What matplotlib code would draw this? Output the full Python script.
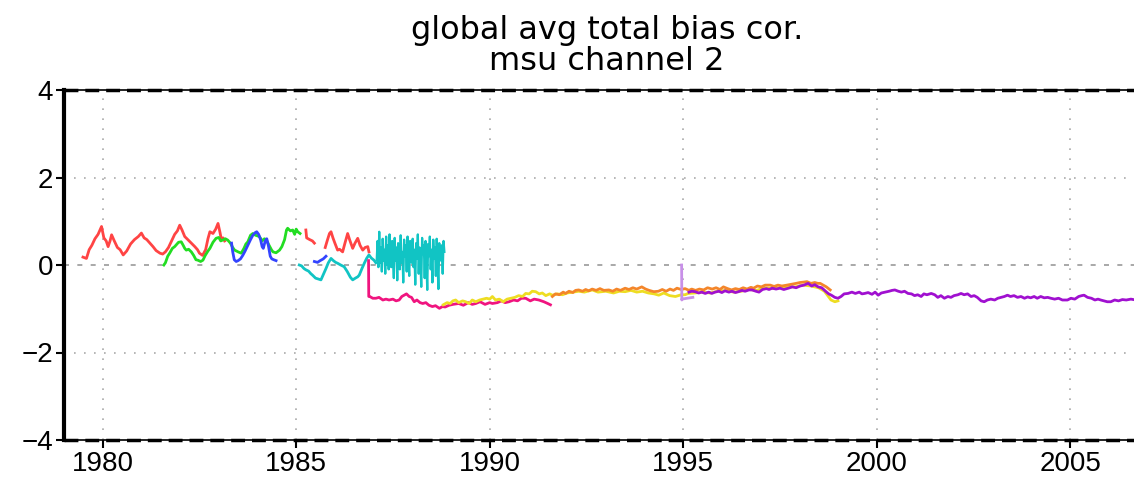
import numpy as np
import matplotlib
matplotlib.use("Agg")
import matplotlib.pyplot as plt

# (year, bias) pairs, one list per satellite
red_a = [(1979.49, 0.18), (1979.58, 0.15), (1979.65, 0.35), (1979.72, 0.45), (1979.80, 0.60),
         (1979.88, 0.70), (1979.97, 0.88), (1980.03, 0.62), (1980.09, 0.55), (1980.14, 0.42),
         (1980.19, 0.55), (1980.23, 0.69), (1980.30, 0.55), (1980.38, 0.40), (1980.45, 0.35),
         (1980.53, 0.23), (1980.62, 0.32), (1980.72, 0.48), (1980.82, 0.58), (1980.92, 0.65),
         (1981.00, 0.73), (1981.07, 0.62), (1981.14, 0.58), (1981.22, 0.50), (1981.30, 0.42),
         (1981.38, 0.33), (1981.48, 0.27), (1981.55, 0.25), (1981.62, 0.30), (1981.70, 0.40),
         (1981.78, 0.55), (1981.86, 0.70), (1981.93, 0.78), (1981.99, 0.91), (1982.05, 0.80),
         (1982.12, 0.65), (1982.20, 0.58), (1982.29, 0.50), (1982.38, 0.42), (1982.45, 0.35),
         (1982.50, 0.27), (1982.58, 0.22), (1982.66, 0.35), (1982.72, 0.60), (1982.77, 0.76),
         (1982.85, 0.72), (1982.92, 0.82), (1982.98, 0.95), (1983.03, 0.75), (1983.07, 0.57),
         (1983.11, 0.62), (1983.15, 0.55)]
red_b = [(1985.25, 0.80), (1985.27, 0.62), (1985.35, 0.58), (1985.42, 0.55), (1985.47, 0.50)]
red_c = [(1985.75, 0.40), (1985.80, 0.55), (1985.86, 0.72), (1985.90, 0.76), (1985.95, 0.62),
         (1986.00, 0.50), (1986.07, 0.34), (1986.12, 0.36), (1986.20, 0.30), (1986.26, 0.50),
         (1986.33, 0.72), (1986.38, 0.58), (1986.46, 0.38), (1986.52, 0.50), (1986.59, 0.61),
         (1986.65, 0.45), (1986.72, 0.34), (1986.78, 0.40), (1986.85, 0.42), (1986.88, 0.30)]

green = [(1981.58, 0.00), (1981.62, 0.05), (1981.68, 0.20), (1981.73, 0.27), (1981.80, 0.38),
         (1981.86, 0.42), (1981.90, 0.46), (1981.96, 0.52), (1982.03, 0.53), (1982.08, 0.45),
         (1982.12, 0.38), (1982.16, 0.34), (1982.22, 0.36), (1982.29, 0.30), (1982.35, 0.22),
         (1982.41, 0.12), (1982.46, 0.11), (1982.53, 0.08), (1982.59, 0.11), (1982.65, 0.22),
         (1982.72, 0.32), (1982.77, 0.38), (1982.85, 0.52), (1982.93, 0.61), (1983.00, 0.63),
         (1983.05, 0.55), (1983.10, 0.57), (1983.17, 0.60), (1983.23, 0.57), (1983.30, 0.50),
         (1983.36, 0.40), (1983.41, 0.34), (1983.50, 0.30), (1983.58, 0.27), (1983.65, 0.38),
         (1983.70, 0.48), (1983.75, 0.53), (1983.82, 0.68), (1983.88, 0.72), (1983.95, 0.68),
         (1984.05, 0.65), (1984.12, 0.55), (1984.18, 0.60), (1984.23, 0.57), (1984.30, 0.45),
         (1984.36, 0.35), (1984.40, 0.30), (1984.48, 0.28), (1984.57, 0.34), (1984.63, 0.42),
         (1984.70, 0.58), (1984.75, 0.80), (1984.78, 0.84), (1984.85, 0.78), (1984.91, 0.80),
         (1984.96, 0.70), (1985.00, 0.82), (1985.04, 0.76), (1985.10, 0.72)]

blue_a = [(1983.33, 0.50), (1983.36, 0.30), (1983.40, 0.12), (1983.45, 0.08), (1983.50, 0.10),
          (1983.56, 0.14), (1983.62, 0.22), (1983.68, 0.32), (1983.75, 0.45), (1983.82, 0.58),
          (1983.88, 0.68), (1983.94, 0.74), (1983.98, 0.76), (1984.03, 0.70), (1984.08, 0.58),
          (1984.12, 0.42), (1984.15, 0.38), (1984.20, 0.55), (1984.24, 0.60), (1984.28, 0.45),
          (1984.33, 0.20), (1984.37, 0.14), (1984.42, 0.12), (1984.48, 0.10)]
blue_b = [(1985.47, 0.08), (1985.55, 0.06), (1985.62, 0.10), (1985.70, 0.14), (1985.77, 0.20)]

cyan_a = [(1985.08, 0.00), (1985.14, -0.02), (1985.20, -0.08), (1985.25, -0.11), (1985.32, -0.14),
          (1985.38, -0.20), (1985.42, -0.23), (1985.50, -0.30), (1985.57, -0.32), (1985.64, -0.34),
          (1985.70, -0.22), (1985.77, -0.08), (1985.83, 0.05), (1985.90, 0.15), (1985.96, 0.10),
          (1986.02, 0.06), (1986.07, 0.04), (1986.15, 0.00), (1986.24, -0.04), (1986.32, -0.15),
          (1986.40, -0.28), (1986.46, -0.34), (1986.53, -0.30), (1986.59, -0.27), (1986.63, -0.23),
          (1986.70, -0.08), (1986.76, 0.04), (1986.82, 0.15), (1986.88, 0.23), (1986.94, 0.16),
          (1987.01, 0.11), (1987.06, 0.05)]
# noisy stretch 1987.08 - 1988.83, evenly spaced samples
cyan_b_start, cyan_b_end = 1987.08, 1988.83
cyan_b = [0.10, 0.55, -0.05, 0.76, 0.05, 0.40, -0.15, 0.60, 0.10, 0.35, -0.20, 0.65, 0.00, 0.45,
          -0.10, 0.70, 0.20, -0.05, 0.55, 0.15, -0.30, 0.62, 0.10, 0.40, -0.35, 0.50, 0.25, -0.10,
          0.68, 0.05, 0.30, -0.40, 0.58, 0.20, 0.45, -0.15, 0.65, 0.10, -0.25, 0.55, 0.30, 0.05,
          0.60, -0.05, 0.35, -0.45, 0.50, 0.15, 0.70, -0.20, 0.40, 0.10, -0.50, 0.62, 0.25, 0.45,
          -0.30, 0.55, 0.05, -0.57, 0.48, 0.20, 0.65, -0.10, 0.35, -0.40, 0.58, 0.15, 0.40, -0.25,
          0.60, 0.05, -0.55, 0.50, 0.30, 0.10, 0.45, -0.20, 0.55, 0.30]

magenta = [(1986.870, 0.10), (1986.875, -0.72), (1986.90, -0.72), (1986.98, -0.76), (1987.06, -0.76),
           (1987.14, -0.74), (1987.24, -0.80), (1987.32, -0.78), (1987.40, -0.80), (1987.50, -0.78),
           (1987.58, -0.82), (1987.66, -0.80), (1987.73, -0.72), (1987.79, -0.69), (1987.85, -0.66),
           (1987.92, -0.72), (1987.98, -0.74), (1988.05, -0.84), (1988.12, -0.80), (1988.20, -0.86),
           (1988.27, -0.88), (1988.35, -0.86), (1988.43, -0.92), (1988.52, -0.95), (1988.60, -0.93),
           (1988.70, -0.99), (1988.78, -0.95), (1988.85, -0.96), (1988.95, -0.92), (1989.05, -0.90),
           (1989.20, -0.88), (1989.32, -0.92), (1989.45, -0.86), (1989.55, -0.90), (1989.64, -0.88),
           (1989.75, -0.84), (1989.88, -0.90), (1990.00, -0.86), (1990.07, -0.88), (1990.20, -0.86),
           (1990.30, -0.82), (1990.40, -0.86), (1990.50, -0.84), (1990.62, -0.80), (1990.72, -0.82),
           (1990.82, -0.76), (1990.93, -0.76), (1991.05, -0.82), (1991.15, -0.78), (1991.27, -0.80),
           (1991.40, -0.84), (1991.50, -0.88), (1991.57, -0.91)]

yellow = [(1988.80, -0.91), (1988.90, -0.86), (1988.98, -0.88), (1989.05, -0.82), (1989.12, -0.80),
          (1989.20, -0.86), (1989.30, -0.82), (1989.38, -0.84), (1989.47, -0.88), (1989.55, -0.80),
          (1989.64, -0.84), (1989.74, -0.80), (1989.83, -0.78), (1989.92, -0.76), (1990.00, -0.78),
          (1990.07, -0.72), (1990.15, -0.80), (1990.25, -0.78), (1990.35, -0.84), (1990.45, -0.78),
          (1990.55, -0.76), (1990.65, -0.74), (1990.75, -0.70), (1990.85, -0.72), (1990.93, -0.65),
          (1991.02, -0.66), (1991.10, -0.60), (1991.19, -0.61), (1991.28, -0.66), (1991.36, -0.64),
          (1991.45, -0.70), (1991.55, -0.66), (1991.62, -0.69), (1991.75, -0.66), (1991.88, -0.68),
          (1992.00, -0.64), (1992.15, -0.62), (1992.30, -0.60), (1992.45, -0.62), (1992.65, -0.57),
          (1992.80, -0.62), (1993.00, -0.60), (1993.20, -0.64), (1993.35, -0.60), (1993.50, -0.61),
          (1993.65, -0.58), (1993.80, -0.62), (1993.95, -0.60), (1994.10, -0.64), (1994.25, -0.66),
          (1994.37, -0.69), (1994.50, -0.64), (1994.65, -0.70), (1994.80, -0.72), (1994.95, -0.68),
          (1995.05, -0.68), (1995.13, -0.65), (1995.30, -0.64), (1995.50, -0.62), (1995.70, -0.64),
          (1995.90, -0.60), (1996.10, -0.58), (1996.30, -0.62), (1996.50, -0.60), (1996.70, -0.56),
          (1996.90, -0.58), (1997.10, -0.52), (1997.30, -0.54), (1997.50, -0.52), (1997.70, -0.50),
          (1997.90, -0.50), (1998.10, -0.46), (1998.30, -0.48), (1998.50, -0.52), (1998.65, -0.60),
          (1998.82, -0.80), (1998.92, -0.84), (1999.00, -0.82)]

orange = [(1991.62, -0.72), (1991.70, -0.66), (1991.80, -0.68), (1991.90, -0.62), (1991.96, -0.65),
          (1992.05, -0.60), (1992.15, -0.63), (1992.22, -0.58), (1992.30, -0.57), (1992.40, -0.60),
          (1992.48, -0.56), (1992.56, -0.59), (1992.65, -0.55), (1992.75, -0.58), (1992.85, -0.54),
          (1992.95, -0.58), (1993.08, -0.57), (1993.18, -0.60), (1993.28, -0.55), (1993.38, -0.58),
          (1993.50, -0.53), (1993.60, -0.56), (1993.70, -0.52), (1993.80, -0.55), (1993.93, -0.50),
          (1994.03, -0.55), (1994.12, -0.58), (1994.24, -0.61), (1994.36, -0.60), (1994.46, -0.56),
          (1994.56, -0.60), (1994.66, -0.55), (1994.75, -0.58), (1994.84, -0.53), (1994.95, -0.56),
          (1995.05, -0.54), (1995.15, -0.58), (1995.22, -0.55), (1995.32, -0.58), (1995.42, -0.55),
          (1995.53, -0.57), (1995.63, -0.52), (1995.75, -0.55), (1995.85, -0.52), (1995.95, -0.56),
          (1996.04, -0.50), (1996.15, -0.54), (1996.25, -0.57), (1996.35, -0.54), (1996.45, -0.56),
          (1996.55, -0.52), (1996.65, -0.55), (1996.75, -0.51), (1996.82, -0.53), (1996.92, -0.48),
          (1997.02, -0.50), (1997.12, -0.46), (1997.25, -0.46), (1997.35, -0.49), (1997.45, -0.46),
          (1997.55, -0.48), (1997.68, -0.46), (1997.80, -0.44), (1997.92, -0.42), (1998.02, -0.40),
          (1998.12, -0.39), (1998.20, -0.38), (1998.30, -0.42), (1998.40, -0.40), (1998.48, -0.42),
          (1998.54, -0.42), (1998.62, -0.46), (1998.70, -0.50), (1998.80, -0.57)]

lavender = [(1994.960, 0.00), (1994.965, -0.80), (1994.97, -0.78), (1995.10, -0.76), (1995.25, -0.74)]

purple = [(1995.15, -0.62), (1995.22, -0.60), (1995.31, -0.61), (1995.40, -0.64), (1995.48, -0.62),
          (1995.57, -0.65), (1995.66, -0.62), (1995.74, -0.65), (1995.82, -0.62), (1995.92, -0.60),
          (1996.00, -0.63), (1996.08, -0.59), (1996.18, -0.62), (1996.26, -0.60), (1996.35, -0.63),
          (1996.43, -0.61), (1996.52, -0.58), (1996.60, -0.60), (1996.70, -0.57), (1996.78, -0.57),
          (1996.88, -0.60), (1996.96, -0.62), (1997.05, -0.56), (1997.15, -0.54), (1997.22, -0.56),
          (1997.30, -0.53), (1997.40, -0.55), (1997.50, -0.53), (1997.60, -0.56), (1997.72, -0.53),
          (1997.82, -0.50), (1997.92, -0.52), (1998.02, -0.48), (1998.12, -0.46), (1998.23, -0.42),
          (1998.32, -0.48), (1998.40, -0.45), (1998.49, -0.50), (1998.58, -0.52), (1998.68, -0.60),
          (1998.76, -0.66), (1998.83, -0.69), (1998.92, -0.74), (1999.00, -0.76), (1999.08, -0.72),
          (1999.16, -0.66), (1999.26, -0.65), (1999.36, -0.62), (1999.45, -0.65), (1999.55, -0.62),
          (1999.62, -0.66), (1999.69, -0.65), (1999.78, -0.63), (1999.88, -0.67), (1999.96, -0.62),
          (2000.04, -0.69), (2000.12, -0.64), (2000.22, -0.62), (2000.32, -0.60), (2000.40, -0.58),
          (2000.47, -0.57), (2000.56, -0.60), (2000.64, -0.62), (2000.72, -0.60), (2000.81, -0.65),
          (2000.90, -0.66), (2000.98, -0.70), (2001.06, -0.68), (2001.15, -0.72), (2001.22, -0.66),
          (2001.30, -0.68), (2001.41, -0.65), (2001.50, -0.68), (2001.58, -0.74), (2001.66, -0.70),
          (2001.75, -0.76), (2001.84, -0.72), (2001.92, -0.74), (2002.00, -0.70), (2002.10, -0.68),
          (2002.18, -0.65), (2002.26, -0.68), (2002.35, -0.66), (2002.44, -0.72), (2002.52, -0.70),
          (2002.60, -0.74), (2002.70, -0.82), (2002.78, -0.84), (2002.86, -0.80), (2002.95, -0.78),
          (2003.05, -0.80), (2003.13, -0.76), (2003.22, -0.74), (2003.30, -0.72), (2003.38, -0.69),
          (2003.46, -0.72), (2003.55, -0.70), (2003.64, -0.74), (2003.73, -0.72), (2003.82, -0.76),
          (2003.90, -0.73), (2003.98, -0.75), (2004.07, -0.72), (2004.15, -0.76), (2004.24, -0.72),
          (2004.33, -0.75), (2004.42, -0.74), (2004.50, -0.76), (2004.60, -0.78), (2004.70, -0.76),
          (2004.80, -0.80), (2004.93, -0.80), (2005.02, -0.76), (2005.12, -0.78), (2005.22, -0.72),
          (2005.30, -0.70), (2005.36, -0.69), (2005.45, -0.74), (2005.55, -0.76), (2005.64, -0.80),
          (2005.72, -0.78), (2005.79, -0.80), (2005.88, -0.82), (2005.96, -0.84), (2006.05, -0.84),
          (2006.15, -0.80), (2006.25, -0.82), (2006.35, -0.79), (2006.45, -0.80), (2006.57, -0.78),
          (2006.70, -0.80)]

x_ticks = [1980, 1985, 1990, 1995, 2000, 2005]
y_ticks = [-4, -2, 0, 2, 4]

C_RED = "#ff4444"
C_GREEN = "#22dd22"
C_BLUE = "#3344ff"
C_CYAN = "#11c4c4"
C_MAGENTA = "#f0147f"
C_YELLOW = "#eedd22"
C_ORANGE = "#f4862a"
C_PURPLE = "#a010d0"
C_LAVENDER = "#c890e8"

fig = plt.figure(figsize=(11.34, 4.78), dpi=100)
ax = fig.add_axes([64 / 1134, 38 / 478, 1 - 64 / 1134, 350 / 478])


def draw(pairs, color, lw=2.0):
    arr = np.array(pairs)
    ax.plot(arr[:, 0], arr[:, 1], color=color, lw=lw, solid_joinstyle="round")


draw(red_a, C_RED)
draw(red_b, C_RED)
draw(red_c, C_RED)
draw(green, C_GREEN)
draw(blue_a, C_BLUE)
draw(blue_b, C_BLUE)
draw(cyan_a, C_CYAN)
ax.plot(np.linspace(cyan_b_start, cyan_b_end, len(cyan_b)), cyan_b, color=C_CYAN, lw=1.6)
draw(magenta, C_MAGENTA)
draw(yellow, C_YELLOW)
draw(orange, C_ORANGE)
draw(lavender, C_LAVENDER)
draw(purple, C_PURPLE)

ax.set_xlim(1979.0, 2006.65)
ax.set_ylim(-4, 4)

# grads style grid
for x in x_ticks:
    ax.axvline(x, color="#aaaaaa", lw=1.2, ls=(0, (1, 5)), zorder=0)
for y in [-2, 2]:
    ax.axhline(y, color="#aaaaaa", lw=1.2, ls=(0, (1, 5)), zorder=0)
ax.axhline(0, color="#999999", lw=1.2, ls=(0, (3, 5)), zorder=0)

for s in ["top", "bottom"]:
    ax.spines[s].set_linewidth(1.2)
ax.spines["left"].set_linewidth(3)
ax.spines["right"].set_visible(False)
ax.axhline(4, color="black", lw=2.5, ls=(0, (4, 2)), clip_on=False)
ax.axhline(-4, color="black", lw=2.5, ls=(0, (4, 2)), clip_on=False)

ax.set_xticks(x_ticks)
ax.set_yticks(y_ticks)
ax.set_yticklabels(["\u22124", "\u22122", "0", "2", "4"])
ax.tick_params(axis="both", direction="out", length=6, width=1.5, labelsize=20, pad=2)
for lab in ax.get_xticklabels() + ax.get_yticklabels():
    lab.set_fontfamily("Liberation Sans")

fig.text(607 / 1134, 1 - 30 / 478, "global avg total bias cor.", ha="center", va="center",
         fontsize=23, fontfamily="DejaVu Sans")
fig.text(607 / 1134, 1 - 62 / 478, "msu channel 2", ha="center", va="center",
         fontsize=23, fontfamily="DejaVu Sans")

fig.savefig("out.png", dpi=100)
